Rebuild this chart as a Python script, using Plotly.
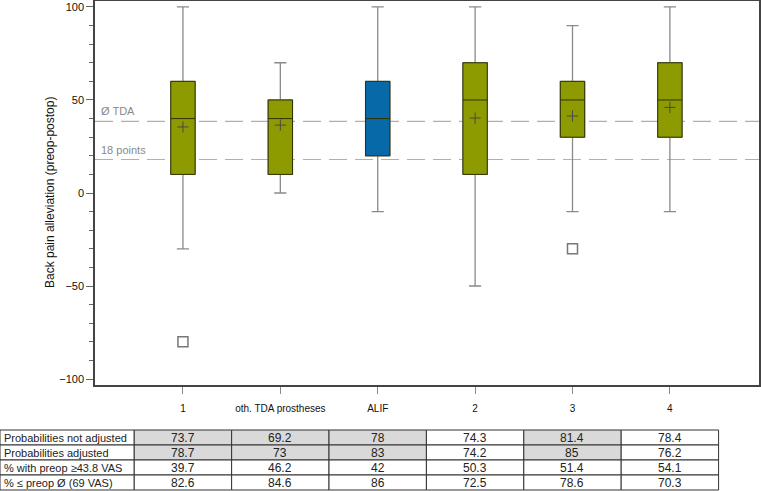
import plotly.graph_objects as go

# ---------------- data ----------------
categories = ["1", "oth. TDA prostheses", "ALIF", "2", "3", "4"]
positions = [1, 2, 3, 4, 5, 6]
q1 = [10, 10, 20, 10, 30, 30]
median = [40, 40, 40, 50, 50, 50]
q3 = [60, 50, 60, 70, 60, 70]
lower_whisker = [-30, 0, -10, -50, -10, -10]
upper_whisker = [100, 70, 100, 100, 90, 100]
means = [35.5, 36.5, None, 40.3, 41.4, 46]
outlier_x = [1, 5]
outlier_y = [-80, -30]
highlight = [False, False, True, False, False, False]

ref_values = [38.5, 18]
ref_labels = ["Ø TDA", "18 points"]

row_labels = ["Probabilities not adjusted", "Probabilities adjusted",
              "% with preop ≥43.8 VAS", "% ≤ preop Ø (69 VAS)"]
prob_not_adjusted = ["73.7", "69.2", "78", "74.3", "81.4", "78.4"]
prob_adjusted = ["78.7", "73", "83", "74.2", "85", "76.2"]
pct_preop_438 = ["39.7", "46.2", "42", "50.3", "51.4", "54.1"]
pct_le_preop = ["82.6", "84.6", "86", "72.5", "78.6", "70.3"]
table_rows = [prob_not_adjusted, prob_adjusted, pct_preop_438, pct_le_preop]
shaded_cells = [[True, True, True, False, True, False],
                [True, True, True, False, True, False],
                [False] * 6, [False] * 6]

# ---------------- styling ----------------
W, H = 761, 491
ML, MR, MT, MB = 95, 2, 1, 106
X0, X1 = 0.097, 6.915
Y0, Y1 = -103.2, 103.2
OLIVE = "#8d9a00"
BLUE = "#0869a8"
DARK = "#2e3300"
WHISK = "#8a8a8a"
FONT = "Liberation Sans, Arial, sans-serif"

pw = W - ML - MR
ph = H - MT - MB


def px_x(p):
    return (p - ML) / pw


def px_y(p):
    return (H - MB - p) / ph


def data_x(d):
    return (d - X0) / (X1 - X0)


fig = go.Figure()

for i, cat in enumerate(categories):
    fill = BLUE if highlight[i] else OLIVE
    # whiskers (gray)
    fig.add_trace(go.Box(
        x=[positions[i]], q1=[q1[i]], median=[median[i]], q3=[q3[i]],
        lowerfence=[lower_whisker[i]], upperfence=[upper_whisker[i]],
        width=0.25, whiskerwidth=0.5, fillcolor=fill,
        line=dict(color=WHISK, width=1.3), boxpoints=False,
        showlegend=False, hoverinfo="skip"))
    # box outline (dark)
    fig.add_trace(go.Box(
        x=[positions[i]], q1=[q1[i]], median=[median[i]], q3=[q3[i]],
        lowerfence=[q1[i]], upperfence=[q3[i]],
        width=0.25, whiskerwidth=0, fillcolor=fill,
        line=dict(color=DARK, width=1), boxpoints=False,
        showlegend=False, name=cat))

mx = [p for p, m in zip(positions, means) if m is not None]
my = [m for m in means if m is not None]
fig.add_trace(go.Scatter(
    x=mx, y=my, mode="markers", showlegend=False,
    marker=dict(symbol="cross-thin-open", size=8, color="#4a4a40",
                line=dict(color="#4a4a40", width=1))))
fig.add_trace(go.Scatter(
    x=outlier_x, y=outlier_y, mode="markers", showlegend=False,
    marker=dict(symbol="square-open", size=10,
                line=dict(color="#777777", width=1.5), color="#777777")))

shapes = []
annotations = []
for v, lab in zip(ref_values, ref_labels):
    shapes.append(dict(type="line", xref="paper", yref="y", x0=0, x1=1,
                       y0=v, y1=v, layer="below",
                       line=dict(color="#b0b0b0", width=1.2, dash="18px,8px")))
    annotations.append(dict(xref="paper", yref="y", x=px_x(99), y=v,
                            text=lab, showarrow=False, xanchor="left",
                            yanchor="bottom", yshift=2,
                            font=dict(family=FONT, size=11, color="#8a8a8a")))

# y-axis title
annotations.append(dict(xref="paper", yref="paper", x=px_x(50), y=0.5,
                        text="Back pain alleviation (preop-postop)",
                        textangle=-90, showarrow=False,
                        xanchor="center", yanchor="middle",
                        font=dict(family=FONT, size=12, color="#111")))

# ---------------- table ----------------
row_tops_px = [430, 445, 460, 475, 490]
label_left = px_x(0)
label_right = data_x(0.5)
for r, (lab, vals) in enumerate(zip(row_labels, table_rows)):
    yt = px_y(row_tops_px[r])
    yb = px_y(row_tops_px[r + 1])
    ym = (yt + yb) / 2
    shapes.append(dict(type="rect", xref="paper", yref="paper",
                       x0=label_left, x1=label_right, y0=yb, y1=yt,
                       fillcolor="white", line=dict(color="#333", width=1)))
    annotations.append(dict(xref="paper", yref="paper", x=px_x(2), y=ym,
                            text=lab, showarrow=False, xanchor="left",
                            yanchor="middle",
                            font=dict(family=FONT, size=11, color="#222")))
    for c, val in enumerate(vals):
        x0 = data_x(positions[c] - 0.5)
        x1 = data_x(positions[c] + 0.5)
        shapes.append(dict(type="rect", xref="paper", yref="paper",
                           x0=x0, x1=x1, y0=yb, y1=yt,
                           fillcolor="#d9d9d9" if shaded_cells[r][c] else "white",
                           line=dict(color="#333", width=1)))
        annotations.append(dict(xref="paper", yref="paper",
                                x=(x0 + x1) / 2, y=ym, text=val,
                                showarrow=False, xanchor="center",
                                yanchor="middle",
                                font=dict(family=FONT, size=12, color="#222")))

fig.update_layout(
    width=W, height=H,
    margin=dict(l=ML, r=MR, t=MT, b=MB, autoexpand=False),
    paper_bgcolor="white", plot_bgcolor="white",
    boxmode="overlay",
    shapes=shapes, annotations=annotations,
    font=dict(family=FONT, color="#111"),
    xaxis=dict(range=[X0, X1], tickvals=positions, ticktext=categories,
               automargin=False,
               showgrid=False, zeroline=False, showline=True, mirror=True,
               linecolor="#444", linewidth=1.5, ticks="outside", ticklen=7,
               tickcolor="#888", ticklabelstandoff=6,
               tickfont=dict(family=FONT, size=10, color="#111")),
    yaxis=dict(range=[Y0, Y1], tickvals=[-100, -50, 0, 50, 100],
               automargin=False,
               showgrid=False, zeroline=False, showline=True, mirror=True,
               linecolor="#444", linewidth=1.5, ticks="outside", ticklen=7,
               tickcolor="#666",
               minor=dict(dtick=10, ticks="outside", ticklen=4,
                          tickcolor="#666", showgrid=False),
               tickfont=dict(family=FONT, size=11, color="#111")),
)

fig.write_html("out.html", config={"displayModeBar": False},
               post_script="document.body.style.margin='0';"
                           "document.body.style.overflow='hidden';")
